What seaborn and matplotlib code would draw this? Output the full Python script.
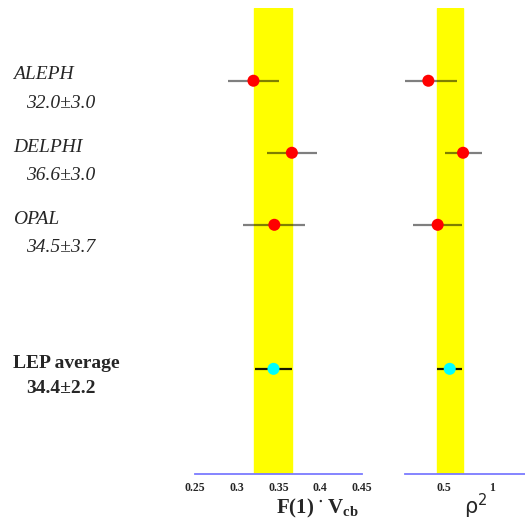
import numpy as np
import pandas as pd
import seaborn as sns
import matplotlib
matplotlib.use("Agg")
import matplotlib.pyplot as plt
import matplotlib.transforms as mtransforms

experiments = ["ALEPH", "DELPHI", "OPAL", "LEP average"]
value_text = ["32.0\u00b13.0", "36.6\u00b13.0", "34.5\u00b13.7", "34.4\u00b12.2"]
row = [0, 1, 2, 4]
vcb = [0.320, 0.366, 0.345, 0.344]
vcb_err = [0.030, 0.030, 0.037, 0.022]
rho2 = [0.342, 0.699, 0.438, 0.562]
rho2_lo = [0.240, 0.186, 0.251, 0.131]
rho2_hi = [0.298, 0.192, 0.250, 0.126]
vcb_band = [0.321, 0.366]
rho2_band = [0.431, 0.699]
vcb_ticks = [0.25, 0.3, 0.35, 0.4, 0.45]
rho2_ticks = [0.5, 1]

sns.set_style("white")
plt.rcParams['font.family'] = ['Liberation Serif', 'DejaVu Serif']
plt.rcParams['mathtext.fontset'] = 'custom'
plt.rcParams['mathtext.rm'] = 'Liberation Serif'
plt.rcParams['mathtext.bf'] = 'Liberation Serif:bold'
plt.rcParams['mathtext.it'] = 'Liberation Serif:italic'
plt.rcParams['mathtext.sf'] = 'DejaVu Sans'

df = pd.DataFrame({"exp": experiments, "row": row, "vcb": vcb, "vcb_err": vcb_err,
                   "rho2": rho2, "lo": rho2_lo, "hi": rho2_hi})
df["kind"] = ["exp", "exp", "exp", "avg"]
colors = {"exp": "red", "avg": "cyan"}

fig = plt.figure(figsize=(5.25, 5.23), dpi=100)
ax1 = fig.add_axes([195 / 525, 1 - 474 / 523, 167 / 525, 466 / 523])
ax2 = fig.add_axes([405 / 525, 1 - 474 / 523, 120 / 525, 466 / 523])

ylim = (5.46, -1.01)


def draw_panel(ax, x, xerr, band, xlim, ticks, ticklabels):
    ax.axvspan(band[0], band[1], color="yellow", zorder=0)
    for i in range(len(df)):
        if df.kind[i] == "avg":
            c, a = "black", 0.9
        else:
            c, a = "black", 0.5
        ax.errorbar(x[i], df.row[i], xerr=[[xerr[0][i]], [xerr[1][i]]], fmt="none",
                    ecolor=c, alpha=a, elinewidth=1.6, capsize=0, zorder=2)
    sns.scatterplot(x=x, y=df.row, hue=df.kind, palette=colors, s=75, linewidth=0,
                    legend=False, ax=ax, zorder=3)
    ax.set_xlim(xlim)
    ax.set_ylim(ylim)
    ax.set_xticks(ticks)
    ax.set_xticklabels(ticklabels, fontsize=8.5, fontweight="bold")
    ax.set_yticks([])
    ax.set_xlabel("")
    ax.set_ylabel("")
    for s in ["top", "left", "right"]:
        ax.spines[s].set_visible(False)
    ax.spines["bottom"].set_color("#7b7bff")
    ax.spines["bottom"].set_linewidth(1.3)
    ax.tick_params(axis="x", direction="in", length=4, width=0.9, color="black", pad=6)


draw_panel(ax1, df.vcb, [df.vcb_err, df.vcb_err], vcb_band, (0.25, 0.45),
           vcb_ticks, ["0.25", "0.3", "0.35", "0.4", "0.45"])
draw_panel(ax2, df.rho2, [df.lo, df.hi], rho2_band, (0.102, 1.336),
           rho2_ticks, ["0.5", "1"])

ax1.text(0.73, -0.075, r"$\mathbf{F(1)}\ \mathbf{^{\bullet}}\ \mathbf{V_{cb}}$", transform=ax1.transAxes,
         ha="center", va="center", fontsize=15)
ax2.text(0.59, -0.07, r"$\mathsf{\rho^2}$", transform=ax2.transAxes, ha="center", va="center",
         fontsize=15)

# experiment names and F(1)Vcb values on the left
trans = mtransforms.blended_transform_factory(fig.transFigure, ax1.transData)
name_dy = [-0.08, -0.08, -0.08, -0.08]
val_dy = [0.32, 0.32, 0.32, 0.27]
for i in range(len(df)):
    if df.kind[i] == "avg":
        style, weight = "normal", "bold"
    else:
        style, weight = "italic", "normal"
    ax1.text(13 / 525, df.row[i] + name_dy[i], df.exp[i], transform=trans, ha="left", va="center",
             fontsize=14, style=style, fontweight=weight, clip_on=False)
    ax1.text(26 / 525, df.row[i] + val_dy[i], value_text[i], transform=trans, ha="left", va="center",
             fontsize=14, style=style, fontweight=weight, clip_on=False)

fig.savefig("out.png", dpi=100)
